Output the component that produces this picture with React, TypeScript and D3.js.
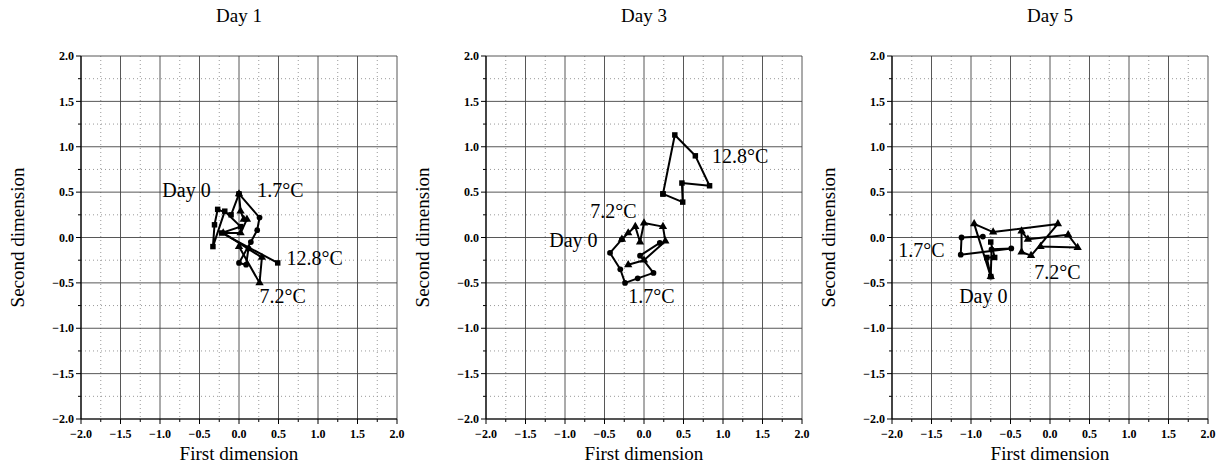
import React from "react";
import * as d3 from "d3";

// tick values shared by both axes
const majorTicks = [-2.0, -1.5, -1.0, -0.5, 0.0, 0.5, 1.0, 1.5, 2.0];
const minorTicks = [-1.75, -1.25, -0.75, -0.25, 0.25, 0.75, 1.25, 1.75];

const panelTitles = ["Day 1", "Day 3", "Day 5"];

// trajectories, [first, second]
const day1Cold = [[0, 0.48], [0.26, 0.22], [0.23, 0.08], [0.15, -0.05], [0.0, -0.28], [0.09, -0.3], [0.12, -0.12]];
const day1Mid = [[0, 0.48], [0.02, 0.29], [0.06, 0.2], [0.1, 0.2], [0.02, 0.05], [-0.2, 0.05], [0.29, -0.22], [0.26, -0.5], [0.0, -0.1]];
const day1Warm = [[0, 0.48], [-0.1, 0.25], [-0.27, 0.31], [-0.31, 0.14], [-0.33, -0.1], [-0.18, 0.29], [0.02, 0.12], [-0.22, 0.05], [0.49, -0.28]];

const day3Cold = [[-0.28, -0.02], [-0.43, -0.17], [-0.3, -0.35], [-0.24, -0.5], [-0.08, -0.45], [0.12, -0.39], [-0.05, -0.2], [0.2, -0.06]];
const day3Mid = [[-0.28, -0.02], [-0.2, 0.05], [-0.11, 0.12], [-0.05, -0.05], [0.0, 0.16], [0.24, 0.12], [0.27, -0.04], [0.0, -0.25], [-0.2, -0.3]];
const day3Warm = [[0.24, 0.48], [0.39, 1.13], [0.65, 0.9], [0.83, 0.57], [0.48, 0.6], [0.49, 0.39], [0.24, 0.48]];

const day5Cold = [[-0.75, -0.43], [-0.74, -0.13], [-0.49, -0.12], [-1.13, -0.19], [-1.12, 0.0], [-0.85, 0.01]];
const day5Mid = [[-0.75, -0.43], [-0.96, 0.15], [-0.72, 0.06], [0.1, 0.15], [-0.24, -0.2], [-0.36, -0.16], [-0.36, 0.07], [-0.28, -0.02], [0.23, 0.03], [0.35, -0.11], [-0.12, -0.1]];
const day5Warm = [[-0.75, -0.43], [-0.8, -0.22], [-0.7, -0.22], [-0.75, -0.05]];

const seriesByPanel = [
  [day1Cold, day1Mid, day1Warm],
  [day3Cold, day3Mid, day3Warm],
  [day5Cold, day5Mid, day5Warm],
];
const markerTypes = [d3.symbolCircle, d3.symbolTriangle, d3.symbolSquare];

// annotation text + anchor position in data units
const labelsByPanel = [
  [["Day 0", -0.97, 0.45], ["1.7°C", 0.23, 0.45], ["12.8°C", 0.6, -0.3], ["7.2°C", 0.26, -0.72]],
  [["12.8°C", 0.86, 0.82], ["7.2°C", -0.68, 0.22], ["Day 0", -1.2, -0.1], ["1.7°C", -0.2, -0.72]],
  [["1.7°C", -1.92, -0.21], ["7.2°C", -0.2, -0.46], ["Day 0", -1.15, -0.72]],
];

const panelLeft = [81, 486, 892];
const plotW = 316;
const top = 56;
const bottom = 419;
const font = "'Liberation Serif', 'Times New Roman', serif";

const Panel = ({ idx }: { idx: number }) => {
  const left = panelLeft[idx];
  const x = d3.scaleLinear().domain([-2, 2]).range([left, left + plotW]);
  const y = d3.scaleLinear().domain([-2, 2]).range([bottom, top]);
  const line = d3.line<number[]>().x((d) => x(d[0])).y((d) => y(d[1]));
  const cx = left + plotW / 2;

  return (
    <g>
      {/* minor grid */}
      {minorTicks.map((t) => (
        <g key={"m" + t}>
          <line x1={x(t)} x2={x(t)} y1={top} y2={bottom} stroke="#999" strokeDasharray="1,3" />
          <line x1={left} x2={left + plotW} y1={y(t)} y2={y(t)} stroke="#999" strokeDasharray="1,3" />
          <line x1={left - 3} x2={left} y1={y(t)} y2={y(t)} stroke="#000" />
          <line x1={x(t)} x2={x(t)} y1={bottom} y2={bottom + 3} stroke="#000" />
        </g>
      ))}
      {/* major grid */}
      {majorTicks.map((t) => (
        <g key={"M" + t}>
          <line x1={x(t)} x2={x(t)} y1={top} y2={bottom} stroke="#444" strokeWidth={0.9} />
          <line x1={left} x2={left + plotW} y1={y(t)} y2={y(t)} stroke="#444" strokeWidth={0.9} />
          <line x1={left - 5} x2={left} y1={y(t)} y2={y(t)} stroke="#000" />
          <line x1={x(t)} x2={x(t)} y1={bottom} y2={bottom + 5} stroke="#000" />
          <text x={left - 7} y={y(t)} dy="0.35em" textAnchor="end" fontSize={12} fontWeight="bold" fontFamily={font}>
            {d3.format(".1f")(t)}
          </text>
          <text x={x(t)} y={bottom + 19} textAnchor="middle" fontSize={12} fontWeight="bold" fontFamily={font}>
            {d3.format(".1f")(t)}
          </text>
        </g>
      ))}
      <line x1={left} x2={left} y1={top} y2={bottom} stroke="#000" strokeWidth={1.2} />
      <line x1={left} x2={left + plotW} y1={bottom} y2={bottom} stroke="#000" strokeWidth={1.2} />

      {seriesByPanel[idx].map((pts, i) => (
        <g key={"s" + i}>
          <path d={line(pts) || ""} fill="none" stroke="#000" strokeWidth={2} strokeLinejoin="round" />
          {pts.map((p, j) => (
            <path
              key={j}
              transform={`translate(${x(p[0])},${y(p[1])})`}
              d={d3.symbol().type(markerTypes[i]).size(i === 0 ? 26 : 30)() || ""}
              fill="#000"
            />
          ))}
        </g>
      ))}

      {labelsByPanel[idx].map((l, i) => (
        <text key={"l" + i} x={x(l[1] as number)} y={y(l[2] as number)} fontSize={20} fontFamily={font}>
          {l[0]}
        </text>
      ))}

      <text x={cx} y={22} textAnchor="middle" fontSize={19} fontFamily={font}>
        {panelTitles[idx]}
      </text>
      <text x={cx} y={460} textAnchor="middle" fontSize={19} fontFamily={font}>
        First dimension
      </text>
      <text
        transform={`translate(${left - 57},${(top + bottom) / 2}) rotate(-90)`}
        textAnchor="middle"
        fontSize={19}
        fontFamily={font}
      >
        Second dimension
      </text>
    </g>
  );
};

export default function App() {
  return (
    <svg
      width={1220}
      height={466}
      style={{ position: "absolute", left: 0, top: 0, background: "#fff" }}
    >
      {[0, 1, 2].map((i) => (
        <Panel key={i} idx={i} />
      ))}
    </svg>
  );
}
